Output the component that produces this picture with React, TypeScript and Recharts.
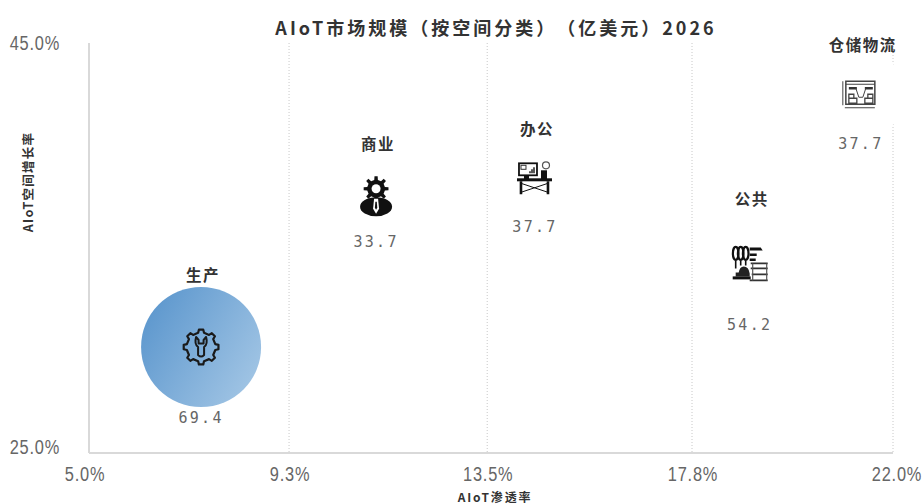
import React from "react";
import { ScatterChart, Scatter, XAxis, YAxis, ZAxis, CartesianGrid, Cell } from "recharts";

const categories = ["生产", "商业", "办公", "公共", "仓储物流"];
const penetration = [7.37, 11.07, 14.43, 18.97, 21.32];
const growth = [30.17, 37.5, 38.4, 34.2, 42.5];
const marketSize = [69.4, 33.7, 37.7, 54.2, 37.7];
const xTicks = [5, 9.23, 13.42, 17.75, 22];
const xTickLabels = ["5.0%", "9.3%", "13.5%", "17.8%", "22.0%"];
const yTicks = [25, 45];
const yTickLabels = ["25.0%", "45.0%"];
const rows = categories.map((name, i) => ({ name, x: penetration[i], y: growth[i], z: marketSize[i] }));

const TITLE_FONT = "'Noto Sans CJK SC', 'Noto Sans', sans-serif";
const NARROW = "'Liberation Sans', sans-serif";
const titleOffset: Record<string, number> = { 生产: 73, 商业: 54, 办公: 50, 公共: 66, 仓储物流: 50 };
const valueOffset: Record<string, number> = { 生产: 71, 商业: 45, 办公: 49, 公共: 61, 仓储物流: 50 };

function gearPath(r1: number, r2: number, n: number) {
  const pts: string[] = [];
  const step = (Math.PI * 2) / n;
  for (let i = 0; i < n; i++) {
    const a = i * step;
    const d = step * 0.2;
    const add = (r: number, t: number) => pts.push(`${(r * Math.cos(t)).toFixed(2)} ${(r * Math.sin(t)).toFixed(2)}`);
    add(r1, a - d * 1.3);
    add(r2, a - d * 0.8);
    add(r2, a + d * 0.8);
    add(r1, a + d * 1.3);
  }
  return "M" + pts.join("L") + "Z";
}

const Wrench = () => (
  <g fill="none" stroke="#1a1a1a" strokeWidth={2.2} strokeLinejoin="round">
    <path d={gearPath(14.5, 17.5, 8)} />
    <path d="M-5 -10 Q-7 -3 -3 0 L-3 8 Q0 11 3 8 L3 0 Q7 -3 5 -10 L2.5 -7 L2.5 -3.5 L-2.5 -3.5 L-2.5 -7 Z" strokeWidth={2} />
  </g>
);

const Person = () => (
  <g>
    <g transform="translate(0,-8)">
      <path d={gearPath(9, 12.5, 8)} fill="#111" />
      <circle r={4.5} fill="#fff" />
    </g>
    <ellipse cx={0} cy={10} rx={16} ry={9.5} fill="#111" />
    <path d="M-2 2 L2 2 L3 12 L0 17 L-3 12 Z" fill="#fff" />
    <path d="M-0.7 5 L0.7 5 L1.2 11 L0 13 L-1.2 11 Z" fill="#111" />
  </g>
);

const Desk = () => (
  <g>
    <rect x={-16} y={-15} width={18} height={12} fill="#fff" stroke="#111" strokeWidth={1.8} />
    <rect x={-14} y={-13} width={5} height={4} fill="none" stroke="#333" strokeWidth={1} />
    <path d="M-8 -5 L-6 -5 L-6 -7 L-4 -7 L-4 -9 L-2 -9 L-2 -11 L0 -11 L0 -5 Z" fill="#555" />
    <circle cx={11} cy={-13} r={3.5} fill="#fff" stroke="#555" strokeWidth={1.2} />
    <rect x={-11} y={-3} width={5} height={4} fill="#111" />
    <rect x={6} y={-8} width={6} height={9} fill="#111" />
    <rect x={-18} y={0} width={35} height={3} fill="#111" />
    <path d="M-14 3 V16 M13 3 V16" stroke="#111" strokeWidth={2.6} />
    <path d="M-14 5 L13 14 M13 5 L-14 14" stroke="#111" strokeWidth={1} />
  </g>
);

const Dining = () => (
  <g>
    <ellipse cx={-14} cy={-11} rx={2.8} ry={6.5} fill="none" stroke="#111" strokeWidth={2.2} />
    <ellipse cx={-9} cy={-11} rx={2.8} ry={6.5} fill="none" stroke="#111" strokeWidth={2.2} />
    <ellipse cx={-4} cy={-11} rx={2.8} ry={6.5} fill="none" stroke="#111" strokeWidth={2.2} />
    <path d="M-14 -4 V4 M-9 -4 V1 M-4 -4 V1" stroke="#111" strokeWidth={1.6} />
    <path d="M0 -17 H11 L13 -14 H0 Z M0 -11 H7 V-8.5 H0 Z M0 -6 H6 V-3.5 H0 Z" fill="#111" />
    <path d="M-14 12 V8 H-11 Q-10 2 -6 2 Q-1 2 0 9 V12 Z" fill="#222" />
    <path d="M1 -1 H18 M1 4 H18 M2 10 H18 M0 16 H18" stroke="#333" strokeWidth={1.8} />
    <path d="M3 -1 V16 M17 -1 V16" stroke="#555" strokeWidth={1.2} />
    <path d="M-17 12 H1 V15 H-17 Z" fill="#111" />
  </g>
);

const Warehouse = () => (
  <g transform="translate(-2,0)" fill="none" stroke="#444">
    <rect x={-13} y={-13} width={29} height={23} strokeWidth={1.5} />
    <path d="M-16 -13 V11 M-14 13.5 H16" strokeWidth={1} />
    <path d="M-13 -10 H16" strokeWidth={1} />
    <path d="M-10 -6 H-2 M6 -6 H14" strokeWidth={2.6} stroke="#333" />
    <path d="M-3 -6 L0 3 H4 L7 -6" strokeWidth={1} />
    <path d="M-10 9 V0 H-5 V4 H-2 V9 Z M-10 4 H-5 M14 9 V0 H9 V4 H6 V9 Z M14 4 H9" strokeWidth={1.3} />
  </g>
);

const icons: Record<string, React.FC> = { 生产: Wrench, 商业: Person, 办公: Desk, 公共: Dining, 仓储物流: Warehouse };

const Bubble = (props: any) => {
  const { cx, cy, width, payload, fill } = props;
  const Icon = icons[payload.name];
  return (
    <g>
      <circle cx={cx} cy={cy} r={width / 2} fill={fill} />
      <g transform={`translate(${cx},${cy})`}>
        <Icon />
      </g>
      <text x={cx + 2} y={cy - titleOffset[payload.name]} textAnchor="middle" dominantBaseline="central" fontFamily={TITLE_FONT} fontWeight={700} fontSize={15.5} letterSpacing={1.5} fill="#333">
        {payload.name}
      </text>
      <text x={cx} y={cy + valueOffset[payload.name]} textAnchor="middle" dominantBaseline="central" fontFamily="'DejaVu Sans Mono', monospace" fontSize={15} letterSpacing={2.3} fill="#666">
        {payload.z.toFixed(1)}
      </text>
    </g>
  );
};

const AxisText = ({ x, y, anchor, children }: any) => (
  <g transform={`translate(${x},${y}) scale(0.78,1)`}>
    <text x={0} y={0} textAnchor={anchor} dominantBaseline="central" fontFamily={NARROW} fontSize={21} letterSpacing={1} fill="#666">
      {children}
    </text>
  </g>
);

const XTick = (props: any) => {
  const { x, index } = props;
  const dx = index === 0 ? -4 : index === xTicks.length - 1 ? 4 : 1;
  return (
    <AxisText x={x + dx} y={474} anchor="middle">
      {xTickLabels[index]}
    </AxisText>
  );
};

const YTick = (props: any) => {
  const { y, index } = props;
  return (
    <AxisText x={60} y={index === 0 ? y - 6 : y} anchor="end">
      {yTickLabels[index]}
    </AxisText>
  );
};

export default function App() {
  return (
    <div style={{ position: "absolute", left: 0, top: 0, width: 924, height: 504, background: "#fff", overflow: "hidden" }}>
      <ScatterChart width={924} height={504} margin={{ top: 43, right: 31, bottom: 0, left: 0 }}>
        <defs>
          <linearGradient id="bubbleFill" x1="0" y1="0.2" x2="1" y2="0.8">
            <stop offset="0%" stopColor="#5b96cd" />
            <stop offset="100%" stopColor="#a3c6e5" />
          </linearGradient>
        </defs>
        <CartesianGrid horizontal={false} verticalValues={xTicks.slice(1)} stroke="#c8c8c8" strokeDasharray="1 2" />
        <XAxis
          type="number"
          dataKey="x"
          domain={[5, 22]}
          ticks={xTicks}
          height={51}
          axisLine={{ stroke: "#d9d9d9", strokeWidth: 2 }}
          tickLine={false}
          tick={<XTick />}
          interval={0}
        />
        <YAxis
          type="number"
          dataKey="y"
          domain={[25, 45]}
          ticks={yTicks}
          width={89}
          axisLine={{ stroke: "#d9d9d9", strokeWidth: 2 }}
          tickLine={false}
          tick={<YTick />}
          interval={0}
        />
        <ZAxis type="number" dataKey="z" domain={[0, 69.4]} range={[0, 11310]} />
        <Scatter data={rows} isAnimationActive={false} shape={<Bubble />}>
          {rows.map((r, i) => (
            <Cell key={r.name} fill={i === 0 ? "url(#bubbleFill)" : "#ffffff"} />
          ))}
        </Scatter>
      </ScatterChart>
      <div style={{ position: "absolute", left: 0, width: 992, top: 15, textAlign: "center", fontFamily: TITLE_FONT, fontWeight: 700, fontSize: 18, letterSpacing: 3, textSpacingTrim: "space-all", fontFeatureSettings: '"chws" 0, "palt" 0', color: "#333", lineHeight: "24px", whiteSpace: "nowrap" } as any}>
        AIoT市场规模（按空间分类）（亿美元）2026
      </div>
      <div style={{ position: "absolute", left: 0, width: 990, top: 490, textAlign: "center", fontFamily: TITLE_FONT, fontWeight: 700, fontSize: 12, letterSpacing: 1.8, color: "#333", lineHeight: "14px", height: 14 }}>
        AIoT渗透率
      </div>
      <div style={{ position: "absolute", left: 28, top: 182, width: 0, height: 0 }}>
        <div style={{ position: "absolute", transform: "translate(-50%,-50%) rotate(-90deg)", whiteSpace: "nowrap", fontFamily: TITLE_FONT, fontWeight: 700, fontSize: 12.5, letterSpacing: 1.2, color: "#333", lineHeight: "16px" }}>
          AIoT空间增长率
        </div>
      </div>
    </div>
  );
}
